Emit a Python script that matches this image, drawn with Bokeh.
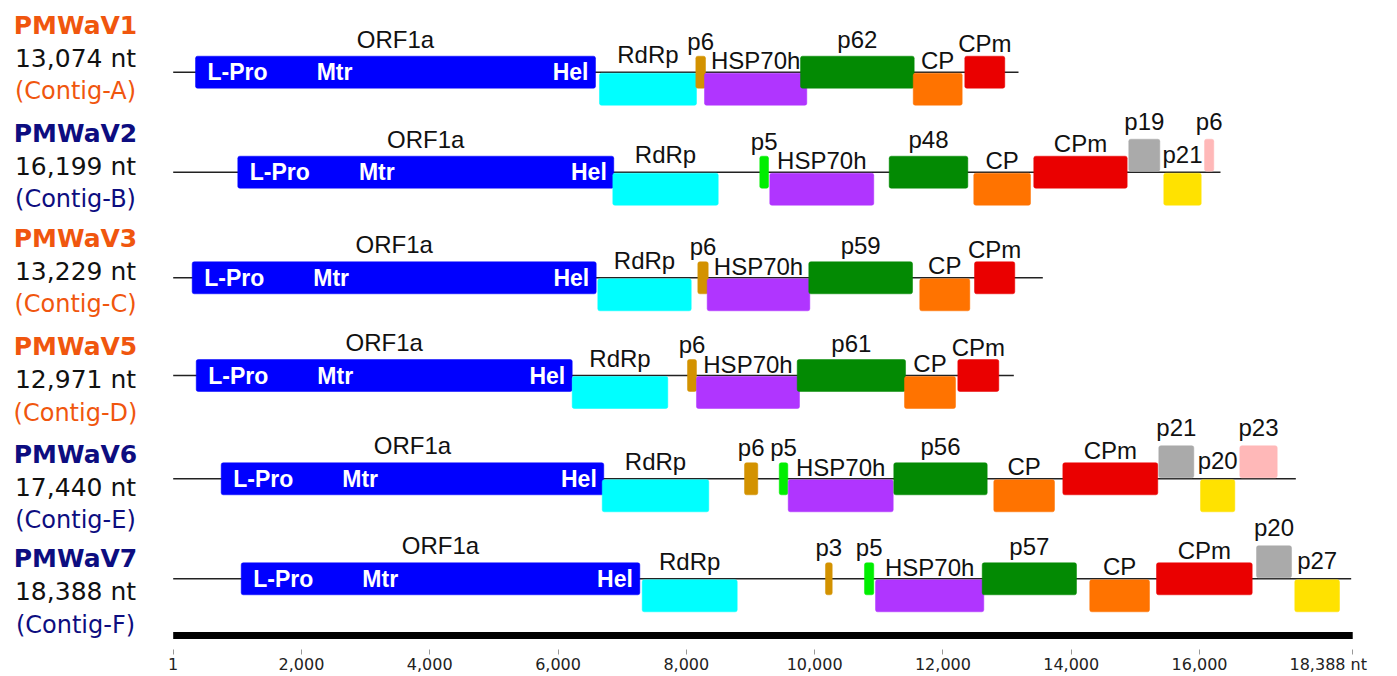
from bokeh.plotting import figure
from bokeh.models import Range1d, LinearAxis, FixedTicker, NumeralTickFormatter, ColumnDataSource
from bokeh.core.properties import value
from bokeh.embed import file_html
from bokeh.resources import INLINE

# ---------------- data ----------------
virus_names = ["PMWaV1", "PMWaV2", "PMWaV3", "PMWaV5", "PMWaV6", "PMWaV7"]
genome_lengths = ["13,074 nt", "16,199 nt", "13,229 nt", "12,971 nt", "17,440 nt", "18,388 nt"]
contig_names = ["(Contig-A)", "(Contig-B)", "(Contig-C)", "(Contig-D)", "(Contig-E)", "(Contig-F)"]
virus_group = ["orange", "navy", "orange", "orange", "navy", "navy"]
backbone_end = [13178, 16327, 13557, 13105, 17501, 18364]

gene_virus = (["PMWaV1"] * 7 + ["PMWaV2"] * 10 + ["PMWaV3"] * 7 + ["PMWaV5"] * 7
              + ["PMWaV6"] * 11 + ["PMWaV7"] * 10)
gene_name = ["ORF1a", "RdRp", "p6", "HSP70h", "p62", "CP", "CPm",
             "ORF1a", "RdRp", "p5", "HSP70h", "p48", "CP", "CPm", "p19", "p21", "p6",
             "ORF1a", "RdRp", "p6", "HSP70h", "p59", "CP", "CPm",
             "ORF1a", "RdRp", "p6", "HSP70h", "p61", "CP", "CPm",
             "ORF1a", "RdRp", "p6", "p5", "HSP70h", "p56", "CP", "CPm", "p21", "p20", "p23",
             "ORF1a", "RdRp", "p3", "p5", "HSP70h", "p57", "CP", "CPm", "p20", "p27"]
gene_start = [349, 6646, 8148, 8283, 9780, 11537, 12341,
              1008, 6854, 9145, 9301, 11162, 12481, 13416, 14897, 15443, 16078,
              297, 6620, 8179, 8325, 9909, 11639, 12492,
              360, 6221, 8018, 8158, 9728, 11401, 12232,
              749, 6689, 8907, 9448, 9588, 11234, 12793, 13869, 15365, 16015, 16628,
              1061, 7312, 10169, 10777, 10949, 12612, 14289, 15329, 16888, 17485]
gene_end = [6584, 8158, 8299, 9878, 11552, 12300, 12964,
            6869, 8497, 9281, 10922, 12388, 13365, 14872, 15381, 16026, 16222,
            6595, 8076, 8341, 9925, 11526, 12419, 13120,
            6221, 7711, 8158, 9764, 11417, 12196, 12871,
            6713, 8350, 9114, 9582, 11225, 12690, 13739, 15349, 15911, 16550, 17211,
            7275, 8793, 10274, 10922, 12637, 14082, 15220, 16821, 17434, 18182]
# position relative to the genome line: c = on the line, b = below, a = above
gene_frame = ["c", "b", "c", "b", "c", "b", "c",
              "c", "b", "c", "b", "c", "b", "c", "a", "b", "a",
              "c", "b", "c", "b", "c", "b", "c",
              "c", "b", "c", "b", "c", "b", "c",
              "c", "b", "c", "c", "b", "c", "b", "c", "a", "b", "a",
              "c", "b", "c", "c", "b", "c", "b", "c", "a", "b"]
gene_kind = ["orf1a", "rdrp", "p6", "hsp", "pxx", "cp", "cpm",
             "orf1a", "rdrp", "p5", "hsp", "pxx", "cp", "cpm", "grey", "yellow", "pink",
             "orf1a", "rdrp", "p6", "hsp", "pxx", "cp", "cpm",
             "orf1a", "rdrp", "p6", "hsp", "pxx", "cp", "cpm",
             "orf1a", "rdrp", "p6", "p5", "hsp", "pxx", "cp", "cpm", "grey", "yellow", "pink",
             "orf1a", "rdrp", "p6", "p5", "hsp", "pxx", "cp", "cpm", "grey", "yellow"]
domain_names = ["L-Pro", "Mtr", "Hel"]

axis_ticks = [1, 2000, 4000, 6000, 8000, 10000, 12000, 14000, 16000, 18388]
axis_last_label = "18,388 nt"

# ---------------- styles / layout ----------------
kind_color = {"orf1a": "#0000ff", "rdrp": "#00ffff", "p6": "#d39200", "p5": "#00ee00",
              "hsp": "#b035ff", "pxx": "#038a03", "cp": "#ff7300", "cpm": "#ea0000",
              "grey": "#aaaaaa", "yellow": "#ffe200", "pink": "#ffb8b8"}
group_color = {"orange": "#f0560e", "navy": "#0d0d80"}
label_lift = {"orf1a": 24, "pxx": 23.5, "p6": 22, "p5": 22, "cpm": 19.5, "grey": 42,
              "pink": 42, "rdrp": 8.5, "hsp": 2.5, "cp": 3, "yellow": 9}
frame_span = {"c": (-16, 16), "b": (1, 33), "a": (-33, -1)}
row_y = [71.7, 171.7, 277.3, 375.0, 478.3, 578.3]
block_y = [25, 133, 238, 346.7, 454, 558.5]
TEXT_SHIFT = -9  # baseline correction for the renderer

W, H = 1397, 676
AXIS_SPACE = 27
frame_bottom = H - AXIS_SPACE

p = figure(width=W, height=H, output_backend="svg", toolbar_location=None,
           x_axis_type=None, y_axis_type=None,
           x_range=Range1d(-2691.1, 19086.0), y_range=Range1d(frame_bottom, 0),
           min_border_left=0, min_border_right=0, min_border_top=0, min_border_bottom=0)
p.outline_line_color = None
p.background_fill_color = "white"
p.border_fill_color = "white"

row_of = {v: i for i, v in enumerate(virus_names)}

# genome backbones
p.segment(x0=[1] * len(virus_names), x1=backbone_end, y0=row_y, y1=row_y,
          line_color="#222222", line_width=1.4)

# gene boxes
tops, bottoms, colors, lab_x, lab_y = [], [], [], [], []
for v, s, e, f, k in zip(gene_virus, gene_start, gene_end, gene_frame, gene_kind):
    y = row_y[row_of[v]]
    t, b = frame_span[f]
    tops.append(y + t)
    bottoms.append(y + b)
    colors.append(kind_color[k])
    lab_x.append((s + e) / 2)
    lab_y.append(y - label_lift[k] + TEXT_SHIFT)

src = ColumnDataSource(dict(left=gene_start, right=gene_end, top=tops, bottom=bottoms,
                            color=colors, name=gene_name, lx=lab_x, ly=lab_y))
p.quad(left="left", right="right", top="top", bottom="bottom", source=src,
       fill_color="color", line_color="color", line_width=0.5, border_radius=2)
p.text(x="lx", y="ly", text="name", source=src, text_align="center",
       text_baseline="alphabetic", text_font=value("Liberation Sans"),
       text_font_size="24px", text_color="#111111")

# domains inside ORF1a
orf_start = [s for s, k in zip(gene_start, gene_kind) if k == "orf1a"]
orf_end = [e for e, k in zip(gene_end, gene_kind) if k == "orf1a"]
orf_y = [row_y[row_of[v]] + 9 + TEXT_SHIFT for v, k in zip(gene_virus, gene_kind) if k == "orf1a"]
dom_style = dict(text_baseline="alphabetic", text_font=value("Liberation Sans"),
                 text_font_style="bold", text_font_size="23px", text_color="white")
p.text(x=orf_start, y=orf_y, text=[domain_names[0]] * len(orf_start), x_offset=12,
       text_align="left", **dom_style)
p.text(x=orf_start, y=orf_y, text=[domain_names[1]] * len(orf_start), x_offset=139,
       text_align="center", **dom_style)
p.text(x=orf_end, y=orf_y, text=[domain_names[2]] * len(orf_end), x_offset=-7,
       text_align="right", **dom_style)

# left labels
gcols = [group_color[g] for g in virus_group]
lx0 = [1] * len(virus_names)
p.text(x=lx0, y=[b + 8.7 + TEXT_SHIFT for b in block_y], text=virus_names, x_offset=-97.7,
       text_align="center", text_baseline="alphabetic", text_font=value("DejaVu Sans"),
       text_font_style="bold", text_font_size="25px", text_color=gcols)
p.text(x=lx0, y=[b + 41.7 + TEXT_SHIFT for b in block_y], text=genome_lengths, x_offset=-97.7,
       text_align="center", text_baseline="alphabetic", text_font=value("DejaVu Sans"),
       text_font_size="25px", text_color="#111111")
p.text(x=lx0, y=[b + 74.5 + TEXT_SHIFT for b in block_y], text=contig_names, x_offset=-97.7,
       text_align="center", text_baseline="alphabetic", text_font=value("DejaVu Sans"),
       text_font_size="24px", text_color=gcols)

# scale bar + axis
p.segment(x0=[axis_ticks[0]], x1=[axis_ticks[-1]], y0=[635], y1=[635],
          line_color="black", line_width=7, line_cap="butt")
ax = LinearAxis(ticker=FixedTicker(ticks=axis_ticks, minor_ticks=[]),
                formatter=NumeralTickFormatter(format="0,0"))
ax.major_label_overrides = {axis_ticks[-1]: axis_last_label + "\u00a0" * 6}
ax.axis_line_color = None
ax.major_tick_in = 0
ax.major_tick_out = 5
ax.major_tick_line_color = "#999999"
ax.minor_tick_line_color = None
ax.major_label_standoff = 0
ax.major_label_text_font = "DejaVu Sans"
ax.major_label_text_font_size = "16px"
ax.major_label_text_color = "#222222"
p.add_layout(ax, "below")

open("out.html", "w").write(file_html(p, INLINE))
